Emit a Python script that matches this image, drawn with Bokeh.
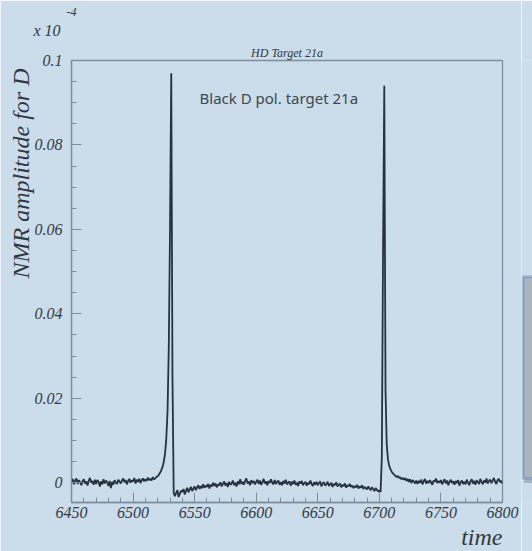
from bokeh.plotting import figure
from bokeh.models import FixedTicker, Label, BoxAnnotation, Title
from bokeh.layouts import row
from bokeh.embed import file_html
from bokeh.resources import INLINE

# ---------------- data ----------------
t_start = 6450
# NMR amplitude (units of 1e-3 on the plotted axis, which is itself x 10^-4), one value per time unit 6450..6800
amp_milli = [
    0.2, 0.9, -0.4, 0.5, 1.0, -0.3, 0.6, 0.1, -0.6, 0.4,     # 6450
    0.8, -0.2, 0.3, -0.7, 0.5, 1.1, 0.0, 0.4, -0.5, 0.7,     # 6460
    -0.3, 0.6, 0.2, -0.9, 0.3, -0.4, 0.8, -0.2, 0.5, 0.1,    # 6470
    -0.8, 0.4, -1.3, 0.2, -0.5, 0.6, 0.0, -0.3, 0.7, 0.3,    # 6480
    -0.2, 0.5, 1.0, 0.1, 0.6, -0.4, 0.4, 0.9, 0.0, 0.5,      # 6490
    0.3, 1.1, -0.2, 0.7, 0.2, 0.9, -0.1, 0.6, 1.0, 0.3,      # 6500
    0.8, 0.4, 1.2, 0.6, 0.9, 0.5, 1.3, 0.8, 1.0, 1.4,        # 6510
    1.5, 1.9, 2.4, 3.0, 3.8, 5.0, 7.0, 10.5, 17.0, 32.0,     # 6520
    60.0, 97.0, 25.0, -2.5, -3.2, -2.4, -1.8, -3.4, -2.6, -1.9,  # 6530
    -2.2, -1.5, -2.8, -1.9, -1.2, -2.3, -1.6, -1.0, -2.0, -1.4,  # 6540
    -0.9, -1.8, -1.1, -0.6, -1.5, -0.8, -1.3, -0.4, -1.2, -0.7,  # 6550
    -1.0, -0.3, -1.4, -0.5, -0.9, 0.0, -0.8, -0.2, -1.1, -0.4,   # 6560
    -0.6, 0.1, -0.9, -0.3, 0.3, -0.7, -0.1, -1.0, 0.2, -0.5,     # 6570
    -0.2, 0.5, -0.6, 0.0, -0.9, 0.3, -0.4, 0.8, -0.3, 0.2,       # 6580
    -0.5, 0.4, 1.0, -0.2, 0.3, -0.6, 0.6, -0.1, 0.4, -0.4,       # 6590
    0.2, 0.7, -0.3, 0.5, -0.5, 0.1, 0.9, -0.2, 0.3, -0.6,        # 6600
    0.4, -0.1, 0.8, 0.0, -0.4, 0.6, -0.3, 0.2, 0.5, -0.5,        # 6610
    0.1, -0.6, 0.4, -0.2, 0.7, -0.4, 0.0, 0.3, -0.7, 0.2,        # 6620
    -0.3, 0.5, -0.5, 0.0, -0.8, 0.3, -0.2, 0.4, -0.6, -0.1,      # 6630
    0.2, -0.7, 0.0, -0.4, 0.5, -0.3, -0.8, 0.1, -0.5, 0.2,       # 6640
    -0.6, -0.1, 0.3, -0.9, -0.2, 0.1, -0.7, -0.3, 0.2, -0.8,     # 6650
    -0.4, 0.0, -1.0, -0.3, -0.6, 0.1, -0.9, -0.5, -0.2, -1.1,    # 6660
    -0.5, -0.8, -0.2, -1.2, -0.6, -0.9, -0.3, -1.0, -0.7, -1.3,  # 6670
    -0.8, -1.1, -0.5, -1.4, -0.9, -1.2, -0.6, -1.5, -1.0, -1.3,  # 6680
    -1.6, -0.9, -1.4, -1.8, -1.1, -1.5, -2.0, -1.3, -1.7, -2.1,  # 6690
    -1.8, -2.2, 6.0, 55.0, 94.0, 22.0, 9.0, 5.5, 4.0, 3.2,       # 6700
    2.6, 2.2, 1.9, 1.6, 1.3, 1.6, 1.1, 1.3, 0.8, 1.1,            # 6710
    0.7, 1.1, 0.4, 0.9, 0.2, 0.8, -0.1, 0.6, 0.3, -0.2,          # 6720
    0.5, -0.3, 0.4, 0.0, 0.7, -0.4, 0.3, 0.9, -0.2, 0.4,         # 6730
    -0.1, 0.6, 0.1, -0.5, 0.5, 0.2, 1.0, -0.1, 0.4, 0.0,         # 6740
    0.6, -0.4, 0.3, 0.8, -0.2, 0.5, -0.6, 0.2, 0.7, -0.1,        # 6750
    0.3, -0.5, 0.4, -0.1, 0.6, -0.7, 0.1, 0.5, -0.3, 0.2,        # 6760
    -0.4, 0.7, 0.0, -0.6, 0.3, 0.8, -0.2, 0.4, -0.5, 0.6,        # 6770
    0.1, -0.3, 0.9, 0.2, -0.4, 0.5, 0.0, 1.0, -0.2, 0.4,         # 6780
    0.7, -0.1, 0.5, 1.1, 0.2, -0.3, 0.6, 0.9, 0.1, 0.4,          # 6790
    -0.2,                                                        # 6800
]
time = [t_start + i for i in range(len(amp_milli))]
amplitude = [a * 1e-3 for a in amp_milli]

x_ticks = [6450, 6500, 6550, 6600, 6650, 6700, 6750, 6800]
x_tick_labels = ["6450", "6500", "6550", "6600", "6650", "6700", "6750", "6800"]
y_ticks = [0.0, 0.02, 0.04, 0.06, 0.08, 0.1]
y_tick_labels = ["0", "0.02", "0.04", "0.06", "0.08", "0.1"]

title_text = "HD Target 21a"
note_text = "Black D pol. target 21a"
y_title = "NMR amplitude for D"
x_title = "time"
scale_text = "x 10"
scale_exp = "-4"

# ---------------- style ----------------
BG = "#cbdcea"
INK = "#27323d"
TXT = "#2f3842"
FRAME = "#7f8e9c"
SERIF = "Liberation Serif"

p = figure(width=521, height=551, x_range=(6450, 6800), y_range=(-0.0047, 0.1),
           output_backend="svg", toolbar_location=None, title_location=None,
           min_border_left=71, min_border_right=19, min_border_top=60, min_border_bottom=49)
p.background_fill_color = BG
p.border_fill_color = BG
p.outline_line_color = FRAME
p.outline_line_width = 1.3
p.xgrid.visible = False
p.ygrid.visible = False

# above panel: first added sits closest to the frame
p.add_layout(Title(text=title_text, align="center", standoff=1,
                   text_font=SERIF, text_font_style="italic", text_font_size="12px",
                   text_color=TXT), "above")
p.add_layout(Title(text=scale_text, align="left", offset=-38, standoff=9,
                   text_font=SERIF, text_font_style="italic", text_font_size="16px",
                   text_color=TXT), "above")
p.add_layout(Title(text=scale_exp, align="left", offset=-5, standoff=0,
                   text_font=SERIF, text_font_style="italic", text_font_size="12px",
                   text_color=TXT), "above")
p.add_layout(Title(text=y_title, align="right", offset=8, standoff=-5,
                   text_font=SERIF, text_font_style="italic", text_font_size="24px",
                   text_color=TXT), "left")
p.add_layout(Title(text=x_title, align="right", offset=0, standoff=2,
                   text_font=SERIF, text_font_style="italic", text_font_size="24px",
                   text_color=TXT), "below")

x_minor = [6450 + 10 * i for i in range(36)]
y_minor = [0.005 * i for i in range(21)]
p.xaxis.ticker = FixedTicker(ticks=x_ticks, minor_ticks=x_minor)
p.yaxis.ticker = FixedTicker(ticks=y_ticks, minor_ticks=y_minor)
p.xaxis.major_label_overrides = dict(zip(x_ticks, x_tick_labels))
p.yaxis.major_label_overrides = dict(zip(y_ticks, y_tick_labels))

for ax in (p.xaxis[0], p.yaxis[0]):
    ax.axis_line_color = FRAME
    ax.axis_line_width = 1.3
    ax.major_tick_line_color = FRAME
    ax.minor_tick_line_color = FRAME
    ax.major_tick_in = 10
    ax.major_tick_out = 0
    ax.minor_tick_in = 5
    ax.minor_tick_out = 0
    ax.major_label_text_font = SERIF
    ax.major_label_text_font_style = "italic"
    ax.major_label_text_font_size = "16px"
    ax.major_label_text_color = "#333b44"
p.xaxis.major_label_standoff = 4
p.yaxis.major_label_standoff = 9

p.line(time, amplitude, line_color=INK, line_width=1.8)

p.add_layout(Label(x=6554, y=0.091, text=note_text, text_font="Noto Sans",
                   text_font_size="15px", text_color="#3d4853", text_baseline="middle"))

# fragment of a slide box visible at the right edge of the picture (shares the y scale)
side = figure(width=11, height=551, x_range=(0, 11), y_range=p.y_range,
              output_backend="svg", toolbar_location=None, title_location=None,
              min_border=0, min_border_left=0, min_border_right=0,
              min_border_top=60, min_border_bottom=49)
side.axis.visible = False
side.grid.visible = False
side.outline_line_color = None
side.background_fill_color = BG
side.border_fill_color = BG
box_left, box_top, box_bottom, shadow = 1.5, 0.0488, 0.0010, 0.0011
side.add_layout(BoxAnnotation(left=box_left + 1, right=20, top=box_bottom, bottom=box_bottom - shadow,
                              fill_color="#8e9aa6", fill_alpha=0.6, line_color=None))
side.add_layout(BoxAnnotation(left=box_left, right=20, top=box_top, bottom=box_bottom,
                              fill_color="#aab4be", fill_alpha=1.0,
                              line_color="#4a6cb8", line_width=3))

layout = row(p, side)
open("out.html", "w").write(file_html(layout, INLINE))
